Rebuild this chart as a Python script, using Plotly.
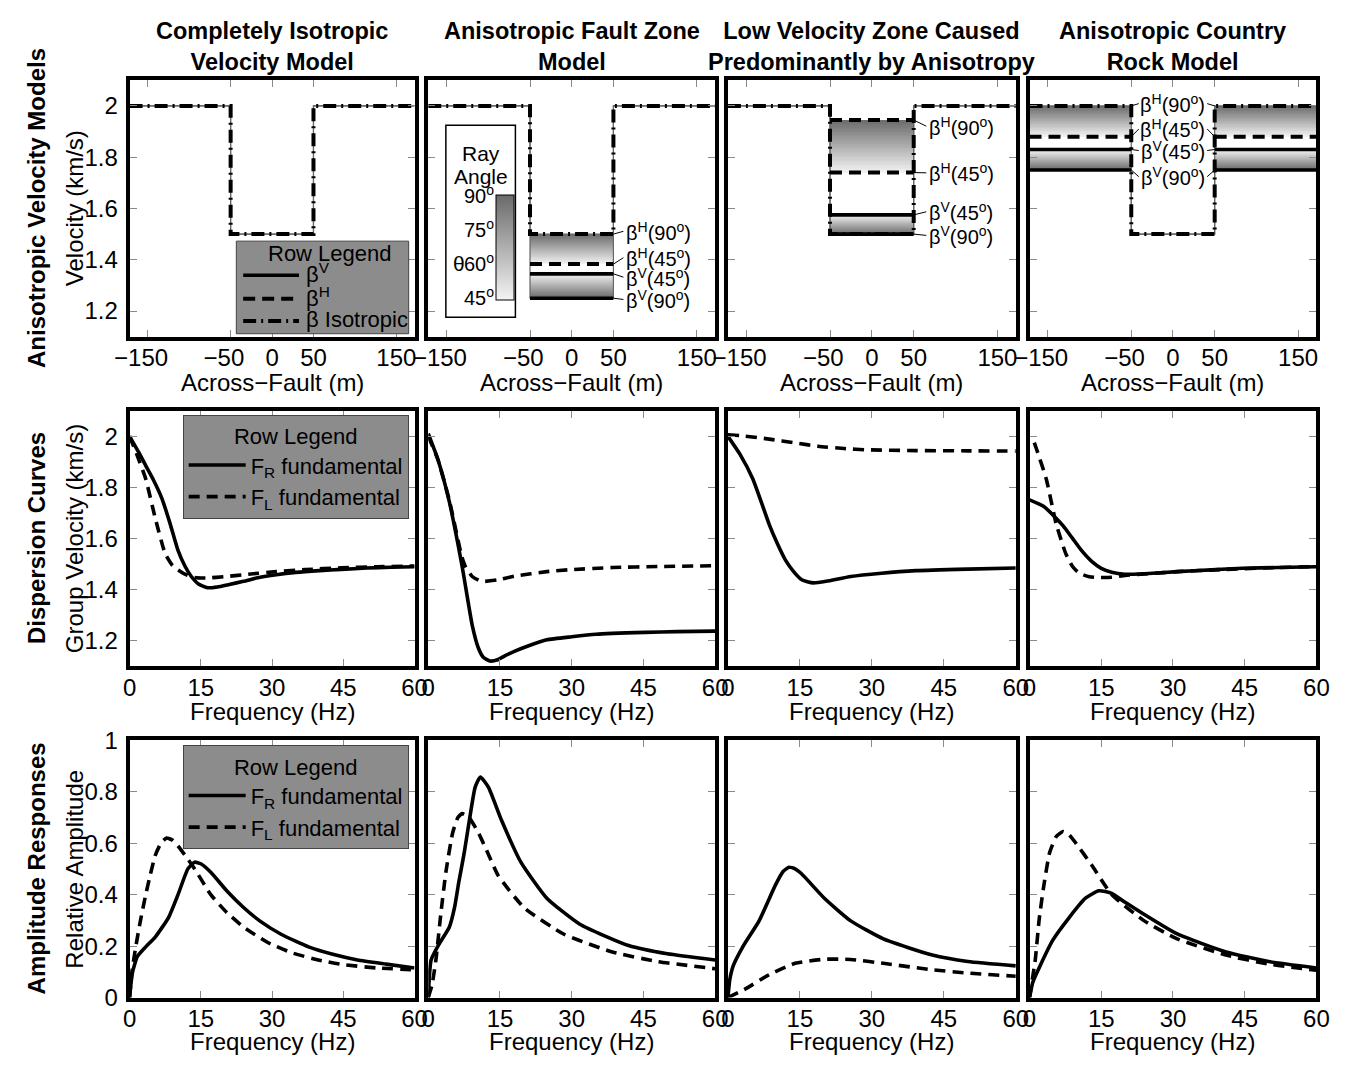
import numpy as np
import plotly.graph_objects as go

W, H = 1350, 1071
FONT = "Liberation Sans, Arial, Helvetica, sans-serif"

# ---------------- text ----------------
col_titles = ["Completely Isotropic<br>Velocity Model",
              "Anisotropic Fault Zone<br>Model",
              "Low Velocity Zone Caused<br>Predominantly by Anisotropy",
              "Anisotropic Country<br>Rock Model"]
row_titles = ["Anisotropic Velocity Models", "Dispersion Curves", "Amplitude Responses"]
y_titles = ["Velocity (km/s)", "Group Velocity (km/s)", "Relative Amplitude"]
x_titles = ["Across\u2212Fault (m)", "Frequency (Hz)", "Frequency (Hz)"]
row1_legend_names = ["\u03b2<sup>V</sup>", "\u03b2<sup>H</sup>", "\u03b2 Isotropic"]

# ---------------- row 1: velocity models (km/s) ----------------
fault_edge_m = 50
model_extent_m = 172
model_xticks = [-150, -50, 0, 50, 150]
model_xticktext = ["\u2212150\u2007", "\u221250\u2007", "0", "50", "150"]
vel_ticks = [1.2, 1.4, 1.6, 1.8, 2.0]
vel_ticktext = ["1.2", "1.4", "1.6", "1.8", "2"]
# each entry: [country rock, fault zone]
beta_iso = [[2.0, 1.5], [2.0, 1.5], [2.0, 1.5], [2.0, 1.5]]
beta_v90 = [[2.0, 1.5], [2.0, 1.25], [2.0, 1.5], [1.75, 1.5]]
beta_v45 = [[2.0, 1.5], [2.0, 1.345], [2.0, 1.575], [1.83, 1.5]]
beta_h45 = [[2.0, 1.5], [2.0, 1.383], [2.0, 1.74], [1.88, 1.5]]
beta_h90 = [[2.0, 1.5], [2.0, 1.5], [2.0, 1.945], [2.0, 1.5]]
ray_angle_ticks = [90, 75, 60, 45]

label_text = ["\u03b2<sup>H</sup>(90<sup>o</sup>)", "\u03b2<sup>H</sup>(45<sup>o</sup>)",
              "\u03b2<sup>V</sup>(45<sup>o</sup>)", "\u03b2<sup>V</sup>(90<sup>o</sup>)"]
label_y = [None, [1.511, 1.408, 1.332, 1.245], [1.921, 1.739, 1.587, 1.495],
           [2.009, 1.910, 1.826, 1.724]]
label_x = [None, 63, 66, 0]

# ---------------- row 2: dispersion curves (group velocity, km/s) ----------------
freq_ticks = [0, 15, 30, 45, 60]
gv_ticks = [1.2, 1.4, 1.6, 1.8, 2.0]
gv_R_f = [
    [0, 2, 3.4, 5, 6.8, 8.5, 10.2, 11.7, 13, 14.5, 16.4, 18.5, 21, 24, 27, 30.9, 35, 40, 44.6, 50, 55, 60],
    [0, 2, 4.4, 7.1, 9.2, 10.5, 11.5, 12.9, 14.5, 16, 18, 21, 24.8, 30, 35.1, 45.3, 52, 60],
    [0, 2.5, 5.2, 7, 8.6, 10.3, 12, 13.7, 15.4, 17.8, 20.5, 25.6, 32, 39.2, 50, 60],
    [0, 3, 5, 7, 9, 11, 13, 15, 17.2, 19.9, 24, 30.9, 38, 44.5, 52, 60]]
gv_R_v = [
    [2.0, 1.935, 1.885, 1.83, 1.757, 1.66, 1.553, 1.49, 1.451, 1.422, 1.407, 1.41, 1.42, 1.432, 1.446, 1.458, 1.467, 1.474, 1.479, 1.484, 1.487, 1.489],
    [2.01, 1.91, 1.744, 1.489, 1.26, 1.17, 1.135, 1.12, 1.125, 1.14, 1.158, 1.18, 1.203, 1.215, 1.225, 1.232, 1.235, 1.237],
    [2.0, 1.93, 1.833, 1.74, 1.655, 1.58, 1.515, 1.47, 1.438, 1.426, 1.432, 1.451, 1.464, 1.474, 1.48, 1.484],
    [1.751, 1.725, 1.69, 1.65, 1.6, 1.55, 1.51, 1.483, 1.468, 1.46, 1.462, 1.470, 1.477, 1.483, 1.486, 1.489]]
gv_L_f = [
    [0, 1.5, 3.4, 5.4, 7.5, 9, 10.2, 12, 13.7, 16, 20.5, 25, 30.9, 37, 44.6, 52, 60],
    [0, 2, 4.4, 7, 7.8, 9.2, 11.2, 14.6, 18, 24.8, 30, 38.5, 48, 60],
    [0, 2.4, 8.6, 14, 18.8, 24.2, 29, 39.2, 50, 60],
    [1.0, 1.5, 3.5, 5.6, 7.6, 9, 10.4, 12.5, 14.5, 17.2, 20, 25, 30.9, 40, 50, 60]]
gv_L_v = [
    [2.0, 1.93, 1.833, 1.68, 1.54, 1.495, 1.477, 1.457, 1.447, 1.445, 1.451, 1.46, 1.470, 1.478, 1.485, 1.489, 1.492],
    [2.0, 1.91, 1.75, 1.53, 1.489, 1.451, 1.432, 1.438, 1.452, 1.470, 1.478, 1.486, 1.49, 1.493],
    [2.006, 2.003, 1.989, 1.974, 1.961, 1.952, 1.947, 1.944, 1.943, 1.942],
    [1.975, 1.948, 1.833, 1.655, 1.54, 1.49, 1.464, 1.45, 1.447, 1.448, 1.455, 1.462, 1.47, 1.478, 1.485, 1.49]]

# ---------------- row 3: amplitude responses ----------------
amp_ticks = [0, 0.2, 0.4, 0.6, 0.8, 1.0]
amp_ticktext = ["0", "0.2", "0.4", "0.6", "0.8", "1"]
amp_R_f = [
    [0, 0.6, 1.65, 3.4, 5.4, 8.2, 10.2, 12.3, 13.7, 15, 17.1, 20.6, 24, 27.4, 32, 37.7, 43, 48, 54, 60],
    [0, 0.6, 2.3, 4.4, 5.5, 6.4, 7.5, 8.5, 9.8, 10.9, 12.6, 15.3, 19.4, 24.8, 31.7, 41.9, 50, 60],
    [0, 0.4, 1.1, 3.1, 6.5, 9.9, 11.5, 12.7, 14, 15.4, 20.1, 25.6, 32.4, 42.6, 50, 60],
    [0, 0.7, 2.2, 4.9, 8.3, 11.7, 14.5, 17.2, 20, 24, 30.9, 41.1, 50, 60]]
amp_R_v = [
    [0, 0.097, 0.16, 0.197, 0.235, 0.311, 0.40, 0.501, 0.526, 0.52, 0.487, 0.412, 0.35, 0.298, 0.245, 0.197, 0.167, 0.146, 0.13, 0.115],
    [0, 0.146, 0.209, 0.273, 0.35, 0.45, 0.56, 0.677, 0.817, 0.857, 0.817, 0.69, 0.525, 0.386, 0.285, 0.202, 0.17, 0.146],
    [0, 0.07, 0.123, 0.197, 0.298, 0.437, 0.49, 0.506, 0.5, 0.48, 0.386, 0.298, 0.228, 0.165, 0.14, 0.123],
    [0, 0.06, 0.123, 0.224, 0.311, 0.386, 0.415, 0.405, 0.37, 0.323, 0.247, 0.177, 0.14, 0.115]]
amp_L_f = [
    [0, 0.5, 1.3, 2.3, 3.4, 4.4, 5.4, 6.6, 7.8, 9, 10.2, 12, 13.7, 17.1, 20.5, 24, 29, 34.3, 40, 44.6, 52, 60],
    [0, 0.8, 1.6, 2.6, 3.7, 5.1, 6.2, 7.1, 8.5, 10.5, 12.5, 14.6, 20.1, 28.3, 38.5, 48, 60],
    [0, 3.5, 8.6, 14, 20.1, 25.6, 32.4, 42.6, 50, 60],
    [0, 0.5, 1.2, 2.0, 2.9, 4.2, 5.6, 7, 8.3, 9.7, 13.1, 17.2, 24, 30.9, 41.1, 50, 60]]
amp_L_v = [
    [0, 0.1, 0.197, 0.3, 0.40, 0.48, 0.552, 0.60, 0.620, 0.612, 0.589, 0.545, 0.50, 0.40, 0.33, 0.274, 0.215, 0.173, 0.145, 0.129, 0.115, 0.108],
    [0, 0.05, 0.146, 0.32, 0.489, 0.64, 0.70, 0.715, 0.70, 0.64, 0.56, 0.475, 0.348, 0.247, 0.177, 0.14, 0.112],
    [0, 0.032, 0.089, 0.133, 0.149, 0.148, 0.133, 0.108, 0.095, 0.083],
    [0, 0.06, 0.146, 0.3, 0.424, 0.563, 0.626, 0.645, 0.632, 0.60, 0.512, 0.40, 0.298, 0.228, 0.165, 0.13, 0.106]]

# ---------------- layout geometry (pixels of the 1350x1071 page) ----------------
col_px = [(117, 408), (422, 715), (728, 1022), (1036, 1329)]
row_px = [(68, 331), (407, 669), (745, 1009)]


def px(xp):
    return xp / W


def py(yp):
    return 1 - yp / H


x_dom = [[px(a), px(b)] for a, b in col_px]
y_dom = [[py(b), py(a)] for a, b in row_px]

SOLID = dict(color="black", width=3.6)
DASH_CURVE = dict(color="black", width=3.6, dash="11px,7px")
DASH_H = dict(color="black", width=4, dash="12px,7px")
ISO_LINE = dict(color="black", width=4, dash="13px,5px,2px,5px")
THIN = dict(color="#666666", width=1.2)
TXT = 24
TITLE = 23.5

fig = go.Figure()


def sfx(p):
    return "" if p == 0 else str(p + 1)


def step_profile(vals):
    o, i = vals
    e, X = fault_edge_m, model_extent_m
    return [-X, -e, -e, e, e, X], [o, o, i, i, o, o]


def segment(vals, region):
    o, i = vals
    e, X = fault_edge_m, model_extent_m
    if region == "inner":
        return [-e, e], [i, i]
    return [-X, -e, None, e, X], [o, o, None, o, o]


def band(lo, hi, a_lo, a_hi, region):
    edges = np.linspace(lo, hi, 41)
    centers = 0.5 * (edges[:-1] + edges[1:])
    ang = a_lo + (a_hi - a_lo) * (centers - lo) / (hi - lo)
    e, X = fault_edge_m, model_extent_m
    if region == "inner":
        xe = [-e, e]
        z = ang[:, None]
    else:
        xe = [-X, -e, e, X]
        z = np.stack([ang, np.full_like(ang, np.nan), ang], axis=1)
    return xe, edges, z


shapes = []
annotations = []

# ----- row 1 -----
for c in range(4):
    s = sfx(c)
    xa, ya = "x" + s, "y" + s
    region = None
    if beta_v90[c][1] != beta_h90[c][1]:
        region = "inner"
    elif beta_v90[c][0] != beta_h90[c][0]:
        region = "outer"
    k = 1 if region == "inner" else 0
    if region:
        for lo, hi, alo, ahi in [(beta_h45[c][k], beta_h90[c][k], 45, 90),
                                 (beta_v90[c][k], beta_v45[c][k], 90, 45)]:
            xe, ye, z = band(lo, hi, alo, ahi, region)
            fig.add_trace(go.Heatmap(x=xe, y=ye, z=z, coloraxis="coloraxis", xaxis=xa, yaxis=ya,
                                     hoverinfo="skip", zsmooth=False))
    for vals in (beta_v90[c], beta_iso[c]):
        xs, ys = step_profile(vals)
        fig.add_trace(go.Scatter(x=xs, y=ys, mode="lines", line=THIN, xaxis=xa, yaxis=ya,
                                 showlegend=False, hoverinfo="skip"))
    if region:
        for vals, style in [(beta_v90[c], SOLID), (beta_v45[c], SOLID),
                            (beta_h45[c], DASH_H), (beta_h90[c], DASH_H)]:
            if style is DASH_H and vals[k] == beta_iso[c][k]:
                continue
            xs, ys = segment(vals, region)
            fig.add_trace(go.Scatter(x=xs, y=ys, mode="lines", line=style, xaxis=xa, yaxis=ya,
                                     showlegend=False, hoverinfo="skip"))
    xs, ys = step_profile(beta_iso[c])
    fig.add_trace(go.Scatter(x=xs, y=ys, mode="lines", line=ISO_LINE, xaxis=xa, yaxis=ya,
                             showlegend=False, hoverinfo="skip"))
    if c > 0:
        band_vals = [beta_h90[c][k], beta_h45[c][k], beta_v45[c][k], beta_v90[c][k]]
        for txt, lyv, bv in zip(label_text, label_y[c], band_vals):
            if c < 3:
                annotations.append(dict(x=label_x[c], y=lyv, xref=xa, yref=ya, text=txt,
                                        showarrow=False, xanchor="left", yanchor="middle",
                                        font=dict(size=20)))
                shapes.append(dict(type="line", xref=xa, yref=ya, x0=fault_edge_m, y0=bv,
                                   x1=label_x[c] - 1, y1=lyv, line=dict(color="black", width=1)))
            else:
                annotations.append(dict(x=label_x[c], y=lyv, xref=xa, yref=ya, text=txt,
                                        showarrow=False, xanchor="center", yanchor="middle",
                                        font=dict(size=20)))
                shapes.append(dict(type="line", xref=xa, yref=ya, x0=-fault_edge_m, y0=bv,
                                   x1=-41, y1=lyv, line=dict(color="black", width=1)))
                shapes.append(dict(type="line", xref=xa, yref=ya, x0=41, y0=lyv,
                                   x1=fault_edge_m, y1=bv, line=dict(color="black", width=1)))

# ----- row-1 key ("Row Legend") -----
shapes.append(dict(type="rect", xref="paper", yref="paper", x0=px(226), x1=px(402),
                   y0=py(328), y1=py(233), line=dict(color="#444444", width=1),
                   fillcolor="#8c8c8c", layer="above"))
annotations.append(dict(x=px(322), y=py(246), xref="paper", yref="paper", text="Row Legend",
                        showarrow=False, font=dict(size=22), xanchor="center", yanchor="middle"))
for name, style, yy in zip(row1_legend_names, [SOLID, DASH_H, ISO_LINE], [268, 292, 315]):
    shapes.append(dict(type="line", xref="paper", yref="paper", x0=px(233), x1=px(290),
                       y0=py(yy), y1=py(yy), line=style, layer="above"))
    annotations.append(dict(x=px(295), y=py(yy - 2), xref="paper", yref="paper", text=name,
                            showarrow=False, font=dict(size=22), xanchor="left", yanchor="middle"))

# ----- rows 2 and 3 -----
for r, (Rf, Rv, Lf, Lv, lg) in enumerate([(gv_R_f, gv_R_v, gv_L_f, gv_L_v, "legend2"),
                                          (amp_R_f, amp_R_v, amp_L_f, amp_L_v, "legend3")], start=1):
    for c in range(4):
        s = sfx(r * 4 + c)
        xa, ya = "x" + s, "y" + s
        fig.add_trace(go.Scatter(x=Rf[c], y=Rv[c], mode="lines",
                                 line=dict(**SOLID, shape="spline", smoothing=0.5),
                                 xaxis=xa, yaxis=ya, name="F<sub>R</sub> fundamental",
                                 showlegend=(c == 0), legend=lg, hoverinfo="skip"))
        fig.add_trace(go.Scatter(x=Lf[c], y=Lv[c], mode="lines",
                                 line=dict(**DASH_CURVE, shape="spline", smoothing=0.5),
                                 xaxis=xa, yaxis=ya, name="F<sub>L</sub> fundamental",
                                 showlegend=(c == 0), legend=lg, hoverinfo="skip"))

# ----- axes -----
common = dict(showline=True, linewidth=4, linecolor="black", mirror="allticks", ticks="inside",
              ticklen=7, tickwidth=1, tickcolor="#8a8a8a", showgrid=False, zeroline=False,
              tickfont=dict(size=TXT, family=FONT, color="black"), fixedrange=True)
layout_axes = {}
for r in range(3):
    for c in range(4):
        p = r * 4 + c
        s = sfx(p)
        if r == 0:
            xr, xt, xtt = [-model_extent_m, model_extent_m], model_xticks, model_xticktext
            yr, yt, ytt = [1.1, 2.1], vel_ticks, vel_ticktext
        elif r == 1:
            xr, xt, xtt = [0, 60], freq_ticks, None
            yr, yt, ytt = [1.1, 2.1], gv_ticks, vel_ticktext
        else:
            xr, xt, xtt = [0, 60], freq_ticks, None
            yr, yt, ytt = [0, 1], amp_ticks, amp_ticktext
        layout_axes["xaxis" + s] = dict(domain=x_dom[c], anchor="y" + s, range=xr, tickvals=xt,
                                        ticktext=xtt, ticklabelstandoff=-3, **common)
        layout_axes["yaxis" + s] = dict(domain=y_dom[r], anchor="x" + s, range=yr, tickvals=yt,
                                        ticktext=ytt, showticklabels=(c == 0),
                                        ticklabelstandoff=3, **common)

# ----- titles -----
for c in range(4):
    annotations.append(dict(x=sum(x_dom[c]) / 2, y=py(33), xref="paper", yref="paper",
                            text="<b>" + col_titles[c] + "</b>", showarrow=False,
                            font=dict(size=TITLE), xanchor="center", yanchor="middle"))
for r in range(3):
    yc = sum(y_dom[r]) / 2
    annotations.append(dict(x=px(22), y=yc, xref="paper", yref="paper", text="<b>" + row_titles[r] + "</b>",
                            textangle=-90, showarrow=False, font=dict(size=TXT),
                            xanchor="center", yanchor="middle"))
    annotations.append(dict(x=px(61), y=yc, xref="paper", yref="paper", text=y_titles[r],
                            textangle=-90, showarrow=False, font=dict(size=TXT),
                            xanchor="center", yanchor="middle"))
    ty = [378, 716, 1054][r]
    for c in range(4):
        annotations.append(dict(x=sum(x_dom[c]) / 2, y=py(ty), xref="paper", yref="paper",
                                text=x_titles[r], showarrow=False, font=dict(size=TXT),
                                xanchor="center", yanchor="middle"))

# ----- ray-angle key -----
shapes.append(dict(type="rect", xref="paper", yref="paper", x0=px(440), x1=px(511),
                   y0=py(311), y1=py(114), line=dict(color="black", width=1.5),
                   fillcolor="white", layer="above"))
annotations.append(dict(x=px(476), y=py(129), xref="paper", yref="paper", text="Ray",
                        showarrow=False, font=dict(size=21)))
annotations.append(dict(x=px(476), y=py(153), xref="paper", yref="paper", text="Angle",
                        showarrow=False, font=dict(size=21)))
annotations.append(dict(x=px(445), y=py(242), xref="paper", yref="paper", text="\u03b8",
                        showarrow=False, font=dict(size=21)))
bar_top, bar_bot = 187, 292
for a in ray_angle_ticks:
    yy = bar_top + (bar_bot - bar_top) * (90 - a) / 45
    annotations.append(dict(x=px(491), y=py(yy - 2), xref="paper", yref="paper",
                            text=f"{a}<sup>o</sup>", showarrow=False, font=dict(size=20),
                            xanchor="right", yanchor="middle"))

legend_common = dict(bgcolor="#8c8c8c", bordercolor="#444444", borderwidth=1,
                     font=dict(size=22, family=FONT, color="black"),
                     title=dict(text="Row Legend", side="top center", font=dict(size=22)),
                     itemwidth=57, xanchor="right", x=px(402), tracegroupgap=0)

fig.update_layout(
    width=W, height=H, margin=dict(l=0, r=0, t=0, b=0),
    paper_bgcolor="white", plot_bgcolor="white",
    font=dict(family=FONT, size=21, color="black"),
    showlegend=True,
    legend2=dict(**legend_common, y=py(411), yanchor="top"),
    legend3=dict(**legend_common, y=py(750), yanchor="top"),
    coloraxis=dict(colorscale=[[0, "#f4f4f4"], [1, "#6a6a6a"]], cmin=45, cmax=90,
                   colorbar=dict(x=px(491), xanchor="left", y=py((bar_top + bar_bot) / 2),
                                 yanchor="middle", len=bar_bot - bar_top, lenmode="pixels",
                                 thickness=18, thicknessmode="pixels", xpad=0, ypad=0,
                                 outlinewidth=1, outlinecolor="black", showticklabels=False,
                                 ticks="")),
    shapes=shapes, annotations=annotations, **layout_axes)

fig.write_html("out.html")
